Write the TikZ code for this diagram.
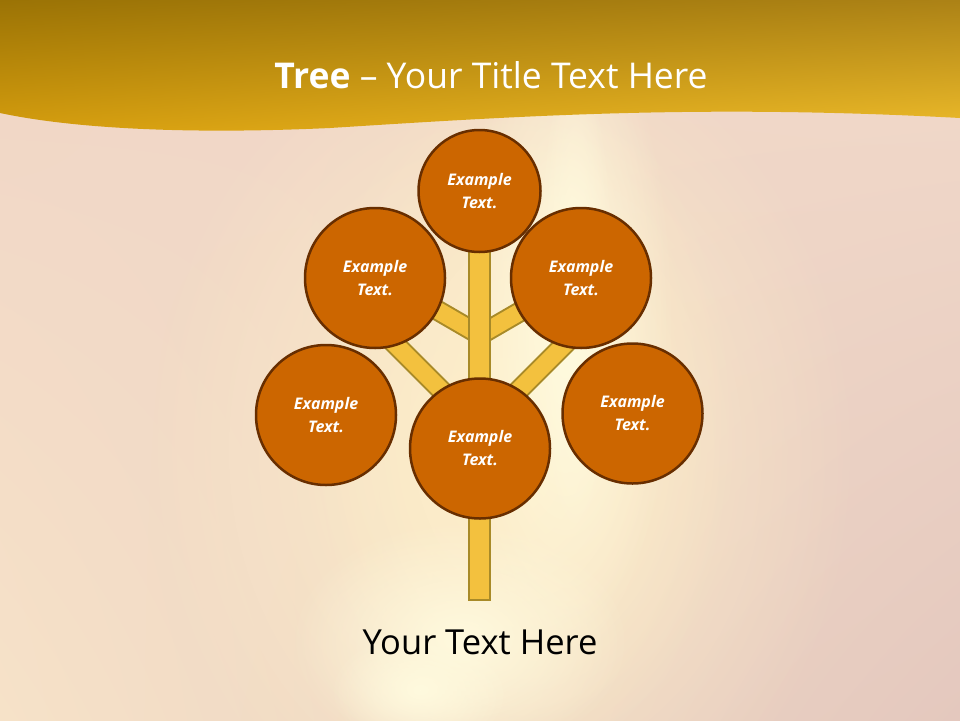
\documentclass[tikz,border=0pt]{standalone}
\usepackage{fontspec}
\setmainfont{Open Sans}
\usetikzlibrary{fadings,shadings}
\tikzfading[name=softglow, inner color=transparent!0, outer color=transparent!100]
\definecolor{bgUL}{RGB}{240,213,198}
\definecolor{bgUR}{RGB}{242,218,202}
\definecolor{bgLL}{RGB}{246,226,200}
\definecolor{bgLR}{RGB}{228,200,190}
\definecolor{glow}{RGB}{255,250,222}
\definecolor{glowb}{RGB}{253,238,202}
\definecolor{hdUL}{RGB}{155,115,5}
\definecolor{hdUR}{RGB}{172,130,22}
\definecolor{hdLL}{RGB}{214,158,14}
\definecolor{hdLR}{RGB}{238,188,42}
\definecolor{circfill}{RGB}{204,102,0}
\definecolor{circline}{RGB}{104,46,0}
\definecolor{brfill}{RGB}{243,193,62}
\definecolor{brline}{RGB}{168,138,40}
\begin{document}
\begin{tikzpicture}[x=1pt,y=-1pt,
  ball/.style={circle,fill=circfill,draw=circline,line width=2.5pt,inner sep=0pt,
    text=white,align=center,font=\bfseries\itshape\fontsize{16}{23}\selectfont},
  bigball/.style={ball,minimum size=140pt},
  smallball/.style={ball,minimum size=122pt},
  brouter/.style={draw=brline,line width=21pt},
  brinner/.style={draw=brfill,line width=17pt}]
\useasboundingbox (0,0) rectangle (960,720);
% background
\shade[upper left=bgUL,upper right=bgUR,lower left=bgLL,lower right=bgLR] (0,0) rectangle (960,720);
\fill[glowb,path fading=softglow] (500,450) ellipse [x radius=360pt,y radius=440pt];
\fill[glowb,path fading=softglow] (520,420) ellipse [x radius=220pt,y radius=360pt];
\fill[glow,path fading=softglow] (565,330) ellipse [x radius=110pt,y radius=330pt];
\fill[glow,path fading=softglow] (575,300) ellipse [x radius=40pt,y radius=240pt];
\fill[glow,path fading=softglow] (460,640) ellipse [x radius=170pt,y radius=120pt];
\fill[glow,path fading=softglow] (420,690) ellipse [x radius=90pt,y radius=60pt];
% header
\shade[upper left=hdUL,upper right=hdUR,lower left=hdLL,lower right=hdLR]
  (0,0) -- (960,0) -- (960,118) .. controls (700,104) and (520,116) .. (330,128)
  .. controls (200,134) and (80,130) .. (0,113) -- cycle;
\node[anchor=base,text=white,font=\fontsize{35.5}{42}\selectfont] (title) at (491,88)
  {\textbf{Tree} – Your Title Text Here};
% branch coordinates
\coordinate (ul0) at (480,335);
\coordinate (ul1) at (380,277);
\coordinate (ur1) at (580,277);
\coordinate (ll0) at (480,429);
\coordinate (ll1) at (382,331);
\coordinate (lr1) at (578,331);
\coordinate (ttop) at (479.5,240);
\coordinate (tbot) at (479.5,600);
\draw[brouter] (ul0) -- (ul1);
\draw[brinner] (ul0) -- (ul1);
\draw[brouter] (ul0) -- (ur1);
\draw[brinner] (ul0) -- (ur1);
\draw[brouter] (ll0) -- (ll1);
\draw[brinner] (ll0) -- (ll1);
\draw[brouter] (ll0) -- (lr1);
\draw[brinner] (ll0) -- (lr1);
% trunk
\draw[fill=brfill,draw=brline,line width=2pt] ([xshift=-10.5pt]ttop) rectangle ([xshift=10.5pt]tbot);
% circles
\node[smallball] (top) at (479.5,191) {Example\\Text.};
\node[bigball] (ul) at (375,278) {Example\\Text.};
\node[bigball] (ur) at (581,278) {Example\\Text.};
\node[bigball] (ll) at (326,415) {Example\\Text.};
\node[bigball] (lr) at (632.5,413.5) {Example\\Text.};
\node[bigball] (mid) at (480,448.5) {Example\\Text.};
% bottom text
\node[anchor=base,text=black,font=\fontsize{34.5}{40}\selectfont] (foot) at (480,654) {Your Text Here};
\end{tikzpicture}
\end{document}
